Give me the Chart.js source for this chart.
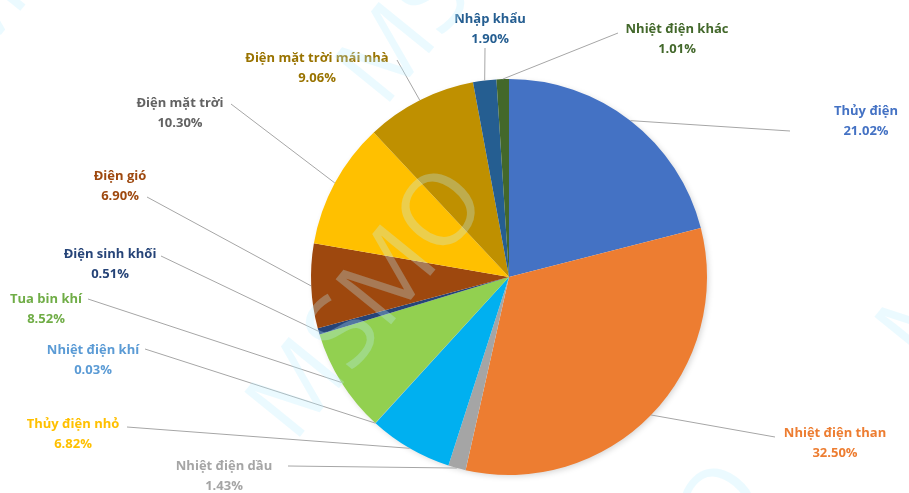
<!DOCTYPE html>
<html lang="vi">
<head>
    <meta charset="UTF-8">
    <title>Cơ cấu nguồn điện</title>
    <script src="https://cdn.jsdelivr.net/npm/chart.js"></script>
    <style>
        html, body { margin: 0; padding: 0; background: #fff; }
        canvas { display: block; }
    </style>
</head>
<body>
    <canvas id="coCau" width="909" height="493"></canvas>

    <script>
        // Các nguồn điện, theo chiều kim đồng hồ từ đỉnh
        const categories = ['Thủy điện', 'Nhiệt điện than', 'Nhiệt điện dầu', 'Thủy điện nhỏ',
            'Nhiệt điện khí', 'Tua bin khí', 'Điện sinh khối', 'Điện gió', 'Điện mặt trời',
            'Điện mặt trời mái nhà', 'Nhập khẩu', 'Nhiệt điện khác'];
        const shares = [21.02, 32.50, 1.43, 6.82, 0.03, 8.52, 0.51, 6.90, 10.30, 9.06, 1.90, 1.01];

        const sliceColors = ['#4472C4', '#ED7D31', '#A5A5A5', '#00B0F0', '#5B9BD5', '#92D050',
            '#264478', '#9E480E', '#FFC000', '#BF9000', '#255E91', '#43682B'];
        const labelColors = ['#4472C4', '#ED7D31', '#A5A5A5', '#FFC000', '#5B9BD5', '#70AD47',
            '#264478', '#9E480E', '#636363', '#997300', '#255E91', '#43682B'];

        // Vị trí nhãn (tâm dòng đầu) và điểm cuối đường dẫn
        const labelAt = [[866, 111], [835, 433], [224, 466], [73, 424], [93, 350], [46, 299],
            [110, 254], [120, 176], [180, 103], [317, 58], [490, 19], [677, 29]];
        const leaderEnd = [[790, 131], [775, 437], [288, 466], [127, 427], [145, 349], [88, 299],
            [161, 256], [147, 197], [231, 104], [397, 60], [485, 48], [618, 33]];

        const calloutPlugin = {
            id: 'callouts',
            beforeDatasetsDraw(chart) {
                // bóng mờ dưới hình tròn
                const ctx = chart.ctx;
                ctx.save();
                ctx.shadowColor = 'rgba(0,0,0,0.18)';
                ctx.shadowBlur = 6;
                ctx.shadowOffsetX = 2;
                ctx.shadowOffsetY = 2;
                const a = chart.getDatasetMeta(0).data[0];
                ctx.beginPath();
                ctx.arc(a.x, a.y, a.outerRadius - 1, 0, Math.PI * 2);
                ctx.fillStyle = '#fff';
                ctx.fill();
                ctx.restore();
            },
            afterDatasetsDraw(chart) {
                const ctx = chart.ctx;
                const arcs = chart.getDatasetMeta(0).data;
                ctx.save();
                arcs.forEach((arc, i) => {
                    const p = arc.getProps(['x', 'y', 'startAngle', 'endAngle', 'outerRadius'], true);
                    const mid = (p.startAngle + p.endAngle) / 2;
                    const sx = p.x + Math.cos(mid) * p.outerRadius;
                    const sy = p.y + Math.sin(mid) * p.outerRadius;
                    const [ex, ey] = leaderEnd[i];
                    ctx.beginPath();
                    ctx.moveTo(sx, sy);
                    ctx.lineTo(ex, ey);
                    ctx.strokeStyle = '#A6A6A6';
                    ctx.lineWidth = 1;
                    ctx.stroke();

                    const [lx, ly] = labelAt[i];
                    ctx.fillStyle = labelColors[i];
                    ctx.font = 'bold 13px "Open Sans", sans-serif';
                    ctx.textAlign = 'center';
                    ctx.textBaseline = 'middle';
                    ctx.fillText(categories[i], lx, ly);
                    ctx.fillText(shares[i].toFixed(2) + '%', lx, ly + 20);
                });
                ctx.restore();
            },
            afterDraw(chart) {
                // chữ chìm MSMO
                const ctx = chart.ctx;
                const marks = [[370, 305], [1000, 230], [650, 600], [460, -30], [-40, 40]];
                ctx.save();
                ctx.font = '100px "Open Sans", sans-serif';
                ctx.textAlign = 'center';
                ctx.textBaseline = 'middle';
                ctx.fillStyle = 'rgba(190, 238, 255, 0.3)';
                marks.forEach(([x, y]) => {
                    ctx.save();
                    ctx.translate(x, y);
                    ctx.rotate(-51 * Math.PI / 180);
                    ctx.fillText('MSMO', 0, 0);
                    ctx.restore();
                });
                ctx.restore();
            }
        };

        new Chart(document.getElementById('coCau'), {
            type: 'pie',
            data: {
                labels: categories,
                datasets: [{
                    data: shares,
                    backgroundColor: sliceColors,
                    borderWidth: 0
                }]
            },
            options: {
                responsive: false,
                animation: false,
                devicePixelRatio: 1,
                layout: { padding: { left: 311, right: 202, top: 79, bottom: 18 } },
                plugins: {
                    legend: { display: false },
                    tooltip: { enabled: false }
                }
            },
            plugins: [calloutPlugin]
        });
    </script>
</body>
</html>
